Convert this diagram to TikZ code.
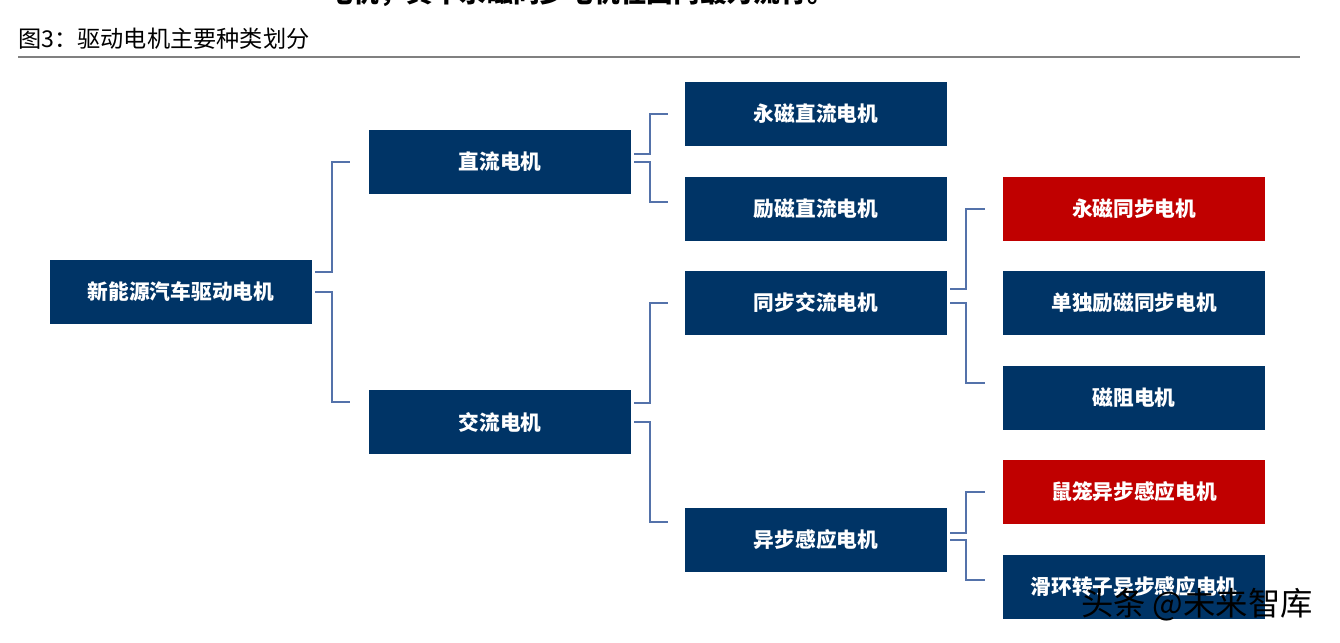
\documentclass[tikz,border=0pt]{standalone}
\usepackage{fontspec}
\setmainfont{Noto Sans CJK SC}
\usetikzlibrary{positioning}

\definecolor{motorblue}{RGB}{0,52,102}
\definecolor{motorred}{RGB}{192,0,0}
\definecolor{linkblue}{RGB}{84,114,170}

\tikzset{
  motorbox/.style={draw=none, fill=motorblue, text=white, minimum width=6.55cm, minimum height=1.6cm,
    inner sep=0pt, font=\bfseries\fontsize{14.7}{16}\selectfont},
  hotbox/.style={motorbox, fill=motorred},
  link/.style={draw=linkblue, line width=1.4pt}
}

\begin{document}
\begin{tikzpicture}[x=0.025cm, y=-0.025cm]
\useasboundingbox (0,0) rectangle (1340,643);

% cut-off line of the page above
\begin{scope}
\clip (0,0) rectangle (1340,643);
\node[anchor=base, font=\bfseries\fontsize{19}{20}\selectfont, inner sep=0pt] (cut) at (580,3) {电机，其中永磁同步电机在国内最为流行。};
\end{scope}

% caption
\node[anchor=west, inner sep=0pt, font=\fontsize{16.5}{18}\selectfont] (title) at (18,39) {图3：驱动电机主要种类划分};
\draw[gray, line width=1.4pt] (18,57) -- (1300,57);

% boxes
\node[motorbox] (root) at (181,292) {新能源汽车驱动电机};
\node[motorbox] (zl) at (500,162) {直流电机};
\node[motorbox] (jl) at (500,422) {交流电机};
\node[motorbox] (yc) at (816,114) {永磁直流电机};
\node[motorbox] (lc) at (816,209) {励磁直流电机};
\node[motorbox] (tb) at (816,303) {同步交流电机};
\node[motorbox] (yb) at (816,540) {异步感应电机};
\node[hotbox] (ytb) at (1134,209) {永磁同步电机};
\node[motorbox] (dl) at (1134,303) {单独励磁同步电机};
\node[motorbox] (cz) at (1134,398) {磁阻电机};
\node[hotbox] (sl) at (1134,492) {鼠笼异步感应电机};
\node[motorbox] (hh) at (1134,587) {滑环转子异步感应电机};

% brackets
\draw[link] ([shift={(3,-20)}]root.east) -- ++(17,0) |- ([shift={(-19,0)}]zl.west);
\draw[link] ([shift={(3,0)}]root.east) -- ++(17,0) |- ([shift={(-19,-20)}]jl.west);
\draw[link] ([shift={(3,-8)}]zl.east) -- ++(16,0) |- ([shift={(-17,0)}]yc.west);
\draw[link] ([shift={(3,0)}]zl.east) -- ++(16,0) |- ([shift={(-17,-7)}]lc.west);
\draw[link] ([shift={(3,-19)}]jl.east) -- ++(16,0) |- ([shift={(-17,0)}]tb.west);
\draw[link] ([shift={(3,0)}]jl.east) -- ++(16,0) |- ([shift={(-17,-18)}]yb.west);
\draw[link] ([shift={(3,-14)}]tb.east) -- ++(16,0) |- ([shift={(-18,0)}]ytb.west);
\draw[link] ([shift={(3,0)}]tb.east) -- ++(16,0) |- ([shift={(-18,-15)}]cz.west);
\draw[link] ([shift={(3,-7)}]yb.east) -- ++(16,0) |- ([shift={(-18,0)}]sl.west);
\draw[link] ([shift={(3,0)}]yb.east) -- ++(16,0) |- ([shift={(-18,-7)}]hh.west);

% watermark
\node[inner sep=0pt, font=\fontsize{23}{24}\selectfont] (mark) at (1197,605) {头条 @未来智库};
\end{tikzpicture}
\end{document}
